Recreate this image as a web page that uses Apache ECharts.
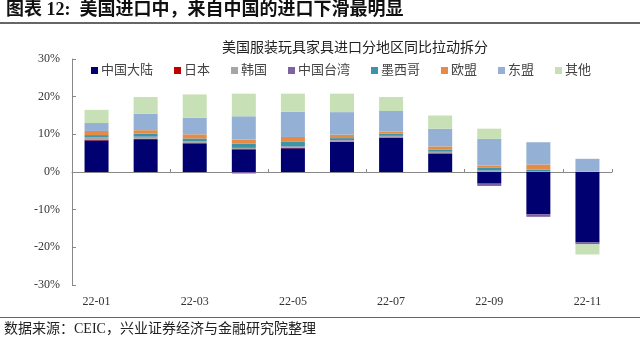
<!DOCTYPE html>
<html><head><meta charset="utf-8">
<script src="https://cdn.jsdelivr.net/npm/echarts@6/dist/echarts.min.js"></script>
<style>html,body{margin:0;padding:0;background:#fff}#c{width:640px;height:341px}</style>
</head><body><div id="c"></div>
<script>
const categories = ['22-01','22-02','22-03','22-04','22-05','22-06','22-07','22-08','22-09','22-10','22-11'];
const seriesNames = ['中国大陆','日本','韩国','中国台湾','墨西哥','欧盟','东盟','其他'];
const chinaMainland = [8.4, 8.5, 7.5, 6.0, 6.3, 8.0, 9.1, 4.9, -3.1, -11.2, -18.7];
const japan         = [0.2, 0.3, 0.2, 0.1, 0.1, 0.1, 0.1, 0.1, 0.1, 0.0, 0.0];
const korea         = [0.6, 0.5, 0.4, 0.3, 0.3, 0.3, 0.3, 0.3, 0.3, 0.1, 0.0];
const taiwan        = [0.1, 0.1, 0.1, -0.4, 0.1, 0.1, 0.1, 0.1, -0.6, -0.7, -0.5];
const mexico        = [0.5, 0.8, 0.7, 1.1, 1.2, 0.5, 0.6, 0.5, 0.7, 0.5, 0.1];
const eu            = [1.1, 0.9, 1.1, 1.1, 1.3, 0.9, 0.5, 0.9, 0.6, 1.4, 0.0];
const asean         = [2.1, 4.4, 4.4, 6.2, 6.7, 6.0, 5.5, 4.7, 7.1, 5.9, 3.4];
const others        = [3.5, 4.4, 6.2, 6.0, 4.8, 4.9, 3.7, 3.5, 2.7, 0.0, -2.7];
const yTicks = [-30, -20, -10, 0, 10, 20, 30];

const allData = [chinaMainland, japan, korea, taiwan, mexico, eu, asean, others];
const colors = ['#000070','#C00000','#A6A6A6','#7E62A1','#3E94A6','#E58B45','#95B0D5','#C8E0B5'];
const FONT = "'Liberation Serif','Noto Sans CJK SC',serif";

const chart = echarts.init(document.getElementById('c'), null, {renderer:'canvas'});
chart.setOption({
  animation: false,
  textStyle: {fontFamily: FONT},
  title: {
    text: '美国服装玩具家具进口分地区同比拉动拆分',
    left: 350, top: 36, textAlign: 'center',
    textStyle: {fontSize: 14, fontWeight: 'normal', color: '#222', fontFamily: FONT}
  },
  legend: {
    data: seriesNames, left: 86, top: 59,
    icon: 'rect', itemWidth: 7, itemHeight: 7, itemGap: 21,
    textStyle: {fontSize: 13, color: '#444', fontFamily: FONT, padding: [0,0,0,-2]}
  },
  grid: {left: 72, right: 28, top: 59, bottom: 56, containLabel: false},
  xAxis: [{
    type: 'category', data: categories, position: 'bottom',
    axisLine: {onZero: true, lineStyle: {color: '#888', width: 1}},
    axisTick: {show: true, inside: true, length: 3, interval: 1, lineStyle: {color: '#888'}},
    axisLabel: {show: false}
  }, {
    type: 'category', data: categories, position: 'bottom',
    axisLine: {show: false, onZero: false}, axisTick: {show: false},
    axisLabel: {interval: 1, margin: 11, fontSize: 12, color: '#333', fontFamily: FONT}
  }],
  yAxis: {
    type: 'value', min: yTicks[0], max: yTicks[yTicks.length-1], interval: 10,
    axisLine: {show: true, lineStyle: {color: '#888'}},
    axisTick: {show: true, inside: true, length: 4, lineStyle: {color: '#888'}},
    splitLine: {show: false},
    axisLabel: {formatter: '{value}%', margin: 12, fontSize: 12, color: '#333', fontFamily: FONT}
  },
  series: seriesNames.map((n, i) => ({
    name: n, type: 'bar', stack: 'total', xAxisIndex: 0,
    barWidth: 24, data: allData[i],
    itemStyle: {color: colors[i]}
  })),
  graphic: [
    {type: 'text', left: 6, top: 1, style: {text: '图表 12:  美国进口中，来自中国的进口下滑最明显', font: "bold 18px 'Liberation Serif','Noto Sans CJK SC',serif", fill: '#111'}},
    {type: 'rect', left: 0, top: 22, shape: {width: 640, height: 2}, style: {fill: '#666'}},
    {type: 'rect', left: 0, top: 317, shape: {width: 640, height: 1}, style: {fill: '#666'}},
    {type: 'text', left: 4, top: 322, style: {text: '数据来源：CEIC，兴业证券经济与金融研究院整理', font: "14px 'Liberation Serif','Noto Sans CJK SC',serif", fill: '#222'}}
  ]
});
</script></body></html>
